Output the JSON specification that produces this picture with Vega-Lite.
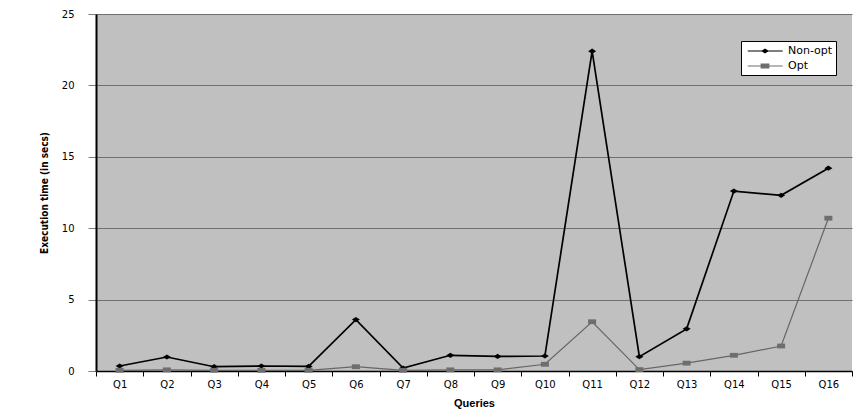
{
  "$schema": "https://vega.github.io/schema/vega-lite/v6.json",
  "width": 756,
  "height": 357,
  "autosize": {"type": "none"},
  "padding": {"left": 96, "top": 14, "right": 2, "bottom": 38},
  "background": "white",
  "config": {
    "view": {"fill": "#c0c0c0", "stroke": null},
    "font": "Liberation Sans"
  },
  "data": {
    "values": [
      {"query": "Q1", "series": "Non-opt", "time": 0.35},
      {"query": "Q2", "series": "Non-opt", "time": 0.98},
      {"query": "Q3", "series": "Non-opt", "time": 0.3},
      {"query": "Q4", "series": "Non-opt", "time": 0.35},
      {"query": "Q5", "series": "Non-opt", "time": 0.32},
      {"query": "Q6", "series": "Non-opt", "time": 3.6},
      {"query": "Q7", "series": "Non-opt", "time": 0.2},
      {"query": "Q8", "series": "Non-opt", "time": 1.1},
      {"query": "Q9", "series": "Non-opt", "time": 1.02},
      {"query": "Q10", "series": "Non-opt", "time": 1.05},
      {"query": "Q11", "series": "Non-opt", "time": 22.4},
      {"query": "Q12", "series": "Non-opt", "time": 1.0},
      {"query": "Q13", "series": "Non-opt", "time": 2.95},
      {"query": "Q14", "series": "Non-opt", "time": 12.6},
      {"query": "Q15", "series": "Non-opt", "time": 12.3},
      {"query": "Q16", "series": "Non-opt", "time": 14.2},
      {"query": "Q1", "series": "Opt", "time": 0.05},
      {"query": "Q2", "series": "Opt", "time": 0.08},
      {"query": "Q3", "series": "Opt", "time": 0.05},
      {"query": "Q4", "series": "Opt", "time": 0.05},
      {"query": "Q5", "series": "Opt", "time": 0.05},
      {"query": "Q6", "series": "Opt", "time": 0.3},
      {"query": "Q7", "series": "Opt", "time": 0.05},
      {"query": "Q8", "series": "Opt", "time": 0.08},
      {"query": "Q9", "series": "Opt", "time": 0.08},
      {"query": "Q10", "series": "Opt", "time": 0.47},
      {"query": "Q11", "series": "Opt", "time": 3.45},
      {"query": "Q12", "series": "Opt", "time": 0.1},
      {"query": "Q13", "series": "Opt", "time": 0.55},
      {"query": "Q14", "series": "Opt", "time": 1.1},
      {"query": "Q15", "series": "Opt", "time": 1.75},
      {"query": "Q16", "series": "Opt", "time": 10.7}
    ]
  },
  "encoding": {
    "x": {
      "field": "query",
      "type": "ordinal",
      "sort": null,
      "scale": {"type": "band", "paddingInner": 0, "paddingOuter": 0},
      "axis": {
        "title": "Queries",
        "titleFont": "Liberation Sans",
        "titleFontSize": 11,
        "titleFontWeight": "bold",
        "titleColor": "#000",
        "titlePadding": 8,
        "labelAngle": 0,
        "labelFont": "DejaVu Sans",
        "labelFontSize": 10,
        "labelColor": "#000",
        "labelPadding": 3,
        "tickBand": "extent",
        "tickSize": 5,
        "tickColor": "#000",
        "domainColor": "#000",
        "domainWidth": 1.5,
        "grid": false
      }
    },
    "y": {
      "field": "time",
      "type": "quantitative",
      "scale": {"domain": [0, 25], "nice": false},
      "axis": {
        "title": "Execution time (in secs)",
        "titleFont": "DejaVu Sans Condensed, Liberation Sans",
        "titleFontSize": 10,
        "titleFontWeight": "bold",
        "titleColor": "#000",
        "titlePadding": 12,
        "values": [0, 5, 10, 15, 20, 25],
        "labelFont": "DejaVu Sans",
        "labelFontSize": 10,
        "labelColor": "#000",
        "labelPadding": 14,
        "tickSize": 8,
        "tickColor": "#808080",
        "domainColor": "#000",
        "domainWidth": 2,
        "grid": true,
        "gridColor": "#707070",
        "gridWidth": 1,
        "gridOpacity": 1
      }
    }
  },
  "layer": [
    {
      "transform": [{"filter": "datum.series === 'Non-opt'"}],
      "mark": {"type": "line", "color": "#000000", "strokeWidth": 1.7}
    },
    {
      "transform": [{"filter": "datum.series === 'Opt'"}],
      "mark": {"type": "line", "color": "#666666", "strokeWidth": 1.2}
    },
    {
      "transform": [{"filter": "datum.series === 'Non-opt'"}],
      "mark": {"type": "point", "filled": true, "opacity": 1, "color": "#000000", "size": 64, "shape": "M0,-0.65L1,0L0,0.65L-1,0Z"}
    },
    {
      "transform": [{"filter": "datum.series === 'Opt'"}],
      "mark": {"type": "point", "filled": true, "opacity": 1, "color": "#6e6e6e", "size": 64, "shape": "M-1,-0.6H1V0.6H-1Z"}
    },
    {
      "mark": {"type": "point", "filled": true, "opacity": 0, "size": 144},
      "encoding": {
        "color": {
          "field": "series",
          "type": "nominal",
          "scale": {"domain": ["Non-opt", "Opt"], "range": ["#000000", "#6e6e6e"]},
          "legend": {
            "title": null,
            "orient": "none",
            "legendX": 645,
            "legendY": 27,
            "fillColor": "#ffffff",
            "strokeColor": "#000000",
            "padding": 3,
            "rowPadding": 2,
            "symbolSize": 144,
            "symbolOpacity": 1,
            "labelFont": "DejaVu Sans",
            "labelFontSize": 11,
            "labelColor": "#000",
            "labelOffset": 30
          }
        },
        "shape": {
          "field": "series",
          "type": "nominal",
          "scale": {
            "domain": ["Non-opt", "Opt"],
            "range": [
              "M-0.55,-0.08H5.28V0.08H-0.55ZM2.33,-0.4L3.0,0L2.33,0.4L1.66,0Z",
              "M-0.55,-0.08H5.28V0.08H-0.55ZM1.6,-0.42H3.06V0.42H1.6Z"
            ]
          },
          "legend": {
            "title": null,
            "orient": "none",
            "legendX": 645,
            "legendY": 27,
            "fillColor": "#ffffff",
            "strokeColor": "#000000",
            "padding": 3,
            "rowPadding": 2,
            "symbolSize": 144,
            "symbolOpacity": 1,
            "labelFont": "DejaVu Sans",
            "labelFontSize": 11,
            "labelColor": "#000",
            "labelOffset": 30
          }
        }
      }
    }
  ]
}
